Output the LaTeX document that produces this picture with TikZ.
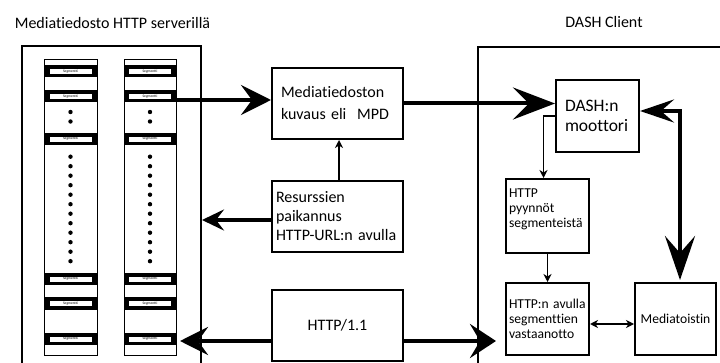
\documentclass[tikz,border=0pt]{standalone}
\usepackage{fontspec}
\setmainfont{Carlito}[Ligatures={NoCommon,NoRequired,NoContextual}]
\usetikzlibrary{arrows.meta}

\begin{document}
\begin{tikzpicture}[x=1pt,y=-1pt,
  frame/.style={draw, line width=2pt, anchor=north west, inner sep=0pt},
  column/.style={draw, line width=1pt, fill=white, anchor=north west, inner sep=0pt, minimum height=296pt},
  box/.style={draw, line width=2pt, fill=white, inner ysep=0pt, align=left},
  bigbox/.style={box, minimum height=71pt, font=\fontsize{16}{19}\selectfont},
  smallbox/.style={box, text width=77pt, inner xsep=3pt, font=\fontsize{13.6}{15}\selectfont},
  seglabel/.style={draw, line width=0.4pt, fill=white, inner sep=0pt, minimum width=43pt, minimum height=6pt, font=\fontsize{3.6}{4}\selectfont},
  heavy/.style={line width=4pt},
  smalltip/.tip={Stealth[length=8pt,width=8pt,inset=2.5pt]},
  thin/.style={line width=1.5pt, -smalltip},
]
\useasboundingbox (0,0) rectangle (720,363);
\clip (0,0) rectangle (720,363);

% headings
\node[font=\fontsize{16}{16}\selectfont] (title1) at (112.5,23) {Mediatiedosto HTTP serverillä};
\node[font=\fontsize{16}{16}\selectfont] (title2) at (604,22) {DASH Client};

% server and client frames, open towards the page edges
\node[frame, minimum width=179pt, minimum height=340pt] (server) at (21,45) {};
\node[frame, minimum width=260pt, minimum height=340pt] (client) at (477,46) {};

% two representations full of segments
\node[column, minimum width=53pt] (col1) at (44,59) {};
\node[column, minimum width=52pt] (col2) at (124,59) {};
\foreach \cx in {70.5,150}{
  \foreach \cy in {71.5,96.5,139,279,303.5,339}{
    \fill (\cx-26.5,\cy-6) rectangle (\cx+26.5,\cy+6);
    \node[seglabel] at (\cx,\cy) {Segmentti};
  }
  \foreach \cy in {112,121.5}{\fill (\cx,\cy) circle (2.2pt);}
  \foreach \k in {0,...,11}{\fill (\cx,156.7+9.5*\k) circle (2.2pt);}
}

% boxes between and inside
\node[bigbox, text width=113pt, inner xsep=9pt, font=\fontsize{16}{22}\selectfont] (mpd) at (337.5,103.5) {Mediatiedoston\\kuvaus eli\ \ MPD};
\node[bigbox, text width=123pt, inner xsep=4pt] (res) at (337.5,216.5) {Resurssien\\paikannus\\HTTP-URL:n avulla};
\node[bigbox, text width=123pt, inner xsep=4pt, align=center] (http) at (337.5,325.5) {HTTP/1.1};

\node[box, text width=65pt, inner xsep=9pt, minimum height=72pt, font=\fontsize{17.5}{20}\selectfont] (dash) at (597.5,116) {DASH:n\\moottori};
\node[smallbox, minimum height=74pt] (req) at (547.5,216) {HTTP\\pyynnöt\\segmenteistä\\\mbox{}};
\node[smallbox, minimum height=72pt] (recv) at (547.5,319) {HTTP:n avulla\\segmenttien\\vastaanotto};
\node[smallbox, text width=75pt, minimum height=72pt, align=center] (play) at (675.5,319) {Mediatoistin};

% heavy connectors
\draw[heavy, -{Stealth[length=30pt,width=30pt,inset=11pt]}]
  (col2.east |- 0,100) -- ([yshift=3.5pt]mpd.west);
\draw[heavy, -{Stealth[length=42pt,width=32pt,inset=16pt]}]
  (mpd.east) -- (mpd.east -| dash.west);
\draw[heavy, -{Stealth[length=22pt,width=21pt,inset=8pt]}]
  ([yshift=-3.5pt]res.west) -- ([yshift=-3.5pt]res.west -| server.east);
\draw[heavy, -{Stealth[length=28pt,width=28pt,inset=10pt]}]
  ([yshift=-15.5pt]http.west) -- ([xshift=3pt,yshift=-15.5pt]http.west -| col2.east);
\draw[heavy, -{Stealth[length=26pt,width=34pt,inset=10pt]}]
  ([yshift=-15.5pt]http.east) -- ([xshift=-9pt,yshift=-15.5pt]http.east -| recv.west);
\draw[heavy, {Stealth[length=34pt,width=23pt,inset=13pt]}-{Stealth[length=44pt,width=30pt,inset=17pt]}]
  ([yshift=5pt]dash.east) -| ([xshift=4.5pt,yshift=2pt]play.north);

% thin connectors
\draw[thin] (res.north -| 339,0) -- (mpd.south -| 339,0);
\draw[thin] (dash.west) -| ([xshift=-4pt]req.north);
\draw[thin] (req.south) -- (recv.north);
\draw[thin, smalltip-smalltip] ([yshift=-5pt]recv.east) -- ([yshift=-5pt]recv.east -| play.west);
\end{tikzpicture}
\end{document}
